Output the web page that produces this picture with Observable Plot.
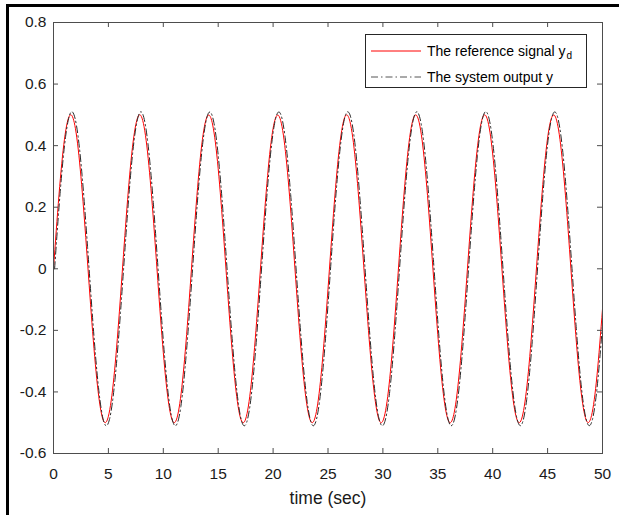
<!DOCTYPE html>
<html>
<head>
<meta charset="utf-8">
<script src="https://cdn.jsdelivr.net/npm/d3@7"></script>
<script src="https://cdn.jsdelivr.net/npm/@observablehq/plot@0.6"></script>
<style>
  html, body { margin: 0; padding: 0; background: #fff; }
  #wrap { position: relative; width: 619px; height: 515px; font-family: "Liberation Sans", Arial, sans-serif; }
  #wrap svg { display: block; }
  .frameTop { position: absolute; left: 6px; top: 4px; width: 613px; height: 3px; background: #000; }
  .frameLeft { position: absolute; left: 6px; top: 4px; width: 3px; height: 511px; background: #000; }
  .legend { position: absolute; left: 365px; top: 34px; width: 220px; height: 52px; border: 1px solid #262626; background: #fff; font-size: 14px; color: #000; }
  .row { position: absolute; left: 0; height: 20px; display: flex; align-items: center; white-space: nowrap; }
  .row svg { margin-left: 5px; margin-right: 6px; }
  sub { font-size: 10px; position: relative; top: 3px; vertical-align: baseline; margin-left: 1px; }
</style>
</head>
<body>
<div id="wrap"></div>
<script>
// time grid (sec)
const time = d3.range(0, 50.0001, 0.5);
// reference signal y_d
const referenceSignal = [0, .240, .421, .499, .455, .299, .071, -.175, -.378, -.489, -.479, -.353, -.140, .108, .329, .469, .495, .399, .206, -.038, -.272, -.440, -.500, -.438, -.268, -.033, .210, .402, .495, .467, .325, .103, -.144, -.356, -.481, -.488, -.376, -.171, .075, .303, .456, .498, .418, .236, -.004, -.244, -.423, -.499, -.453, -.296, -.066, .180, .381, .490, .478, .350, .135, -.112, -.332, -.471, -.494, -.397, -.202, .042, .276, .442, .500, .436, .265, .029, -.214, -.405, -.496, -.466, -.322, -.099, .148, .359, .482, .487, .373, .167, -.079, -.306, -.458, -.498, -.416, -.232, .009, .247, .425, .499, .451, .292, .062, -.184, -.384, -.490, -.477, -.346, -.131];
// system output y (slightly lagging)
const outputLag = 0.1;
const systemOutput = [0, .245, .429, .509, .464, .305, .072, -.179, -.386, -.499, -.489, -.360, -.143, .110, .336, .478, .505, .407, .210, -.039, -.277, -.449, -.510, -.447, -.273, -.034, .214, .410, .505, .476, .332, .105, -.147, -.363, -.491, -.498, -.384, -.174, .077, .309, .465, .508, .426, .241, -.004, -.249, -.431, -.509, -.462, -.302, -.067, .184, .389, .500, .488, .357, .138, -.114, -.339, -.480, -.504, -.405, -.206, .043, .282, .451, .510, .445, .270, .030, -.218, -.413, -.506, -.475, -.328, -.101, .151, .366, .492, .497, .380, .170, -.081, -.312, -.467, -.508, -.424, -.237, .009, .252, .434, .509, .460, .298, .063, -.188, -.392, -.500, -.487, -.353, -.134];
const xTicks = [0, 5, 10, 15, 20, 25, 30, 35, 40, 45, 50];
const yTicks = [-0.6, -0.4, -0.2, 0, 0.2, 0.4, 0.6, 0.8];
const xLabel = "time (sec)";
const legendLabels = ["The reference signal y", "The system output y"];

const refData = time.map((t, i) => ({t, v: referenceSignal[i]}));
const outData = time.map((t, i) => ({t: t + outputLag, v: systemOutput[i]}));

const W = 619, H = 515, mL = 53, mR = 17, mT = 22, mB = 62;
const pw = W - mL - mR, ph = H - mT - mB;
const axisColor = "#4d4d4d";

const chart = Plot.plot({
  width: W, height: H,
  marginLeft: mL, marginRight: mR, marginTop: mT, marginBottom: mB,
  style: {fontFamily: "Liberation Sans, Arial, sans-serif", color: "#000", background: "#fff"},
  x: {domain: [0, 50]},
  y: {domain: [-0.6, 0.8]},
  marks: [
    Plot.line(refData, {x: "t", y: "v", stroke: "#ff0000", strokeWidth: 1, curve: "natural", clip: true}),
    Plot.line(outData, {x: "t", y: "v", stroke: "#2a2a2a", strokeWidth: 1, strokeDasharray: "7,3,1.5,3", curve: "natural", clip: true}),
    Plot.frame({stroke: axisColor, strokeWidth: 1}),
    Plot.ruleX(xTicks, {x: d => d, stroke: axisColor, insetTop: ph - 5}),
    Plot.ruleX(xTicks, {x: d => d, stroke: axisColor, insetBottom: ph - 5}),
    Plot.ruleY(yTicks, {y: d => d, stroke: axisColor, insetRight: pw - 5}),
    Plot.ruleY(yTicks, {y: d => d, stroke: axisColor, insetLeft: pw - 5}),
    Plot.axisX(xTicks, {anchor: "bottom", tickSize: 0, tickPadding: 14, tickFormat: d => String(d), label: null, fill: "#1a1a1a", fontSize: 15.5}),
    Plot.axisY(yTicks, {anchor: "left", tickSize: 0, tickPadding: 7, tickFormat: d => String(d), label: null, fill: "#1a1a1a", fontSize: 15.5}),
    Plot.text([xLabel], {frameAnchor: "bottom", dy: 38, text: d => d, fontSize: 17.5, fill: "#1a1a1a", lineAnchor: "top"})
  ]
});

const wrap = document.getElementById("wrap");
wrap.appendChild(chart);

const ft = document.createElement("div"); ft.className = "frameTop"; wrap.appendChild(ft);
const fl = document.createElement("div"); fl.className = "frameLeft"; wrap.appendChild(fl);

const leg = document.createElement("div");
leg.className = "legend";
leg.innerHTML = `
  <div class="row" style="top:6px"><svg width="50" height="4"><line x1="0" x2="50" y1="2" y2="2" stroke="#ff0000" stroke-width="1"/></svg><span>${legendLabels[0]}<sub>d</sub></span></div>
  <div class="row" style="top:32px"><svg width="50" height="4"><line x1="0" x2="50" y1="2" y2="2" stroke="#555" stroke-width="1" stroke-dasharray="7,3,1.5,3"/></svg><span>${legendLabels[1]}</span></div>`;
wrap.appendChild(leg);
</script>
</body>
</html>
